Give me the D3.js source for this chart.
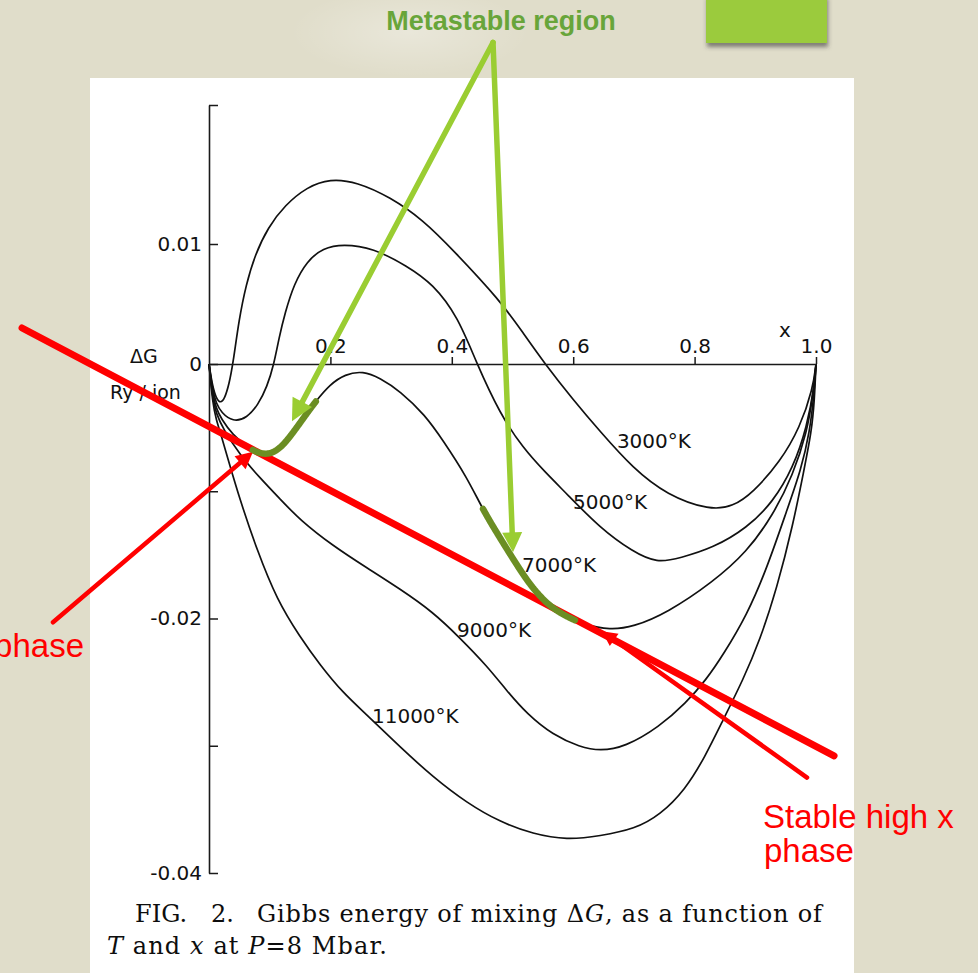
<!DOCTYPE html>
<html>
<head>
<meta charset="utf-8">
<script src="https://cdn.jsdelivr.net/npm/d3@7"></script>
<style>
  html, body { margin: 0; padding: 0; background: #e0ddca; }
  svg { display: block; }
</style>
</head>
<body>
<svg id="fig" width="978" height="973"></svg>
<script>
// Gibbs energy of mixing ΔG (Ry/ion) against x at P = 8 Mbar, one series per temperature.
const xTicks = [0.2, 0.4, 0.6, 0.8, 1.0];
const xTickLabels = ["0.2", "0.4", "0.6", "0.8", "1.0"];
const yTicks = [0.02, 0.01, 0, -0.01, -0.02, -0.03, -0.04];
const yTickLabels = ["", "0.01", "0", "", "-0.02", "", "-0.04"];
const temperatures = ["3000°K", "5000°K", "7000°K", "9000°K", "11000°K"];

// [x, ΔG] pairs
const g3000 = [[0,0],[0.006,-0.0018],[0.012,-0.0027],[0.019,-0.0031],[0.026,-0.0027],[0.033,-0.0016],[0.0395,0],
  [0.0494,0.0037],[0.061,0.0066],[0.0758,0.0091],[0.0972,0.0112],[0.1252,0.0128],[0.1614,0.0141],[0.1993,0.0147],
  [0.2438,0.01446],[0.2982,0.01338],[0.3526,0.01173],[0.402,0.0095],[0.4794,0.0053],[0.5173,0.0026],[0.5535,0],
  [0.5997,-0.0028],[0.6442,-0.0053],[0.6985,-0.0082],[0.7545,-0.0103],[0.8254,-0.0115],[0.8633,-0.0112],
  [0.8962,-0.0101],[0.9407,-0.0077],[0.9736,-0.0050],[0.995,-0.0019],[1,0]];
const g5000 = [[0,0],[0.006,-0.0021],[0.012,-0.0031],[0.02,-0.0038],[0.0395,-0.00456],[0.0626,-0.00424],
  [0.0807,-0.00322],[0.0956,-0.00181],[0.1071,0],[0.1153,0.00217],[0.1252,0.00425],[0.14,0.00667],[0.1614,0.00858],
  [0.1878,0.00967],[0.2208,0.0100],[0.2702,0.00967],[0.3262,0.00817],[0.369,0.00667],[0.4102,0.00392],
  [0.4399,0.00017],[0.4794,-0.00393],[0.5173,-0.0066],[0.5535,-0.00849],[0.5898,-0.01022],[0.6442,-0.01289],
  [0.6985,-0.01477],[0.7381,-0.01564],[0.7759,-0.01525],[0.8303,-0.01446],[0.8863,-0.01289],[0.9292,-0.01084],
  [0.9621,-0.00817],[0.985,-0.0050],[0.9984,-0.0014],[1,0]];
const g7000 = [[0,0],[0.006,-0.0024],[0.012,-0.0035],[0.02,-0.0043],[0.0395,-0.0056],[0.0626,-0.0065],[0.0807,-0.0070],
  [0.0972,-0.0071],[0.112,-0.0068],[0.1252,-0.0062],[0.1384,-0.0054],[0.1549,-0.0043],[0.1746,-0.0030],
  [0.1993,-0.0016],[0.224,-0.0008],[0.2537,-0.00055],[0.2817,-0.0011],[0.3147,-0.00212],[0.3558,-0.0040],
  [0.3855,-0.0060],[0.425,-0.0089],[0.4514,-0.01147],[0.4794,-0.01367],[0.5041,-0.01556],[0.5288,-0.01737],
  [0.5568,-0.01886],[0.5832,-0.01972],[0.6194,-0.02051],[0.6606,-0.0209],[0.6985,-0.02067],[0.7545,-0.01957],
  [0.8303,-0.01713],[0.8863,-0.01477],[0.9292,-0.01187],[0.9621,-0.00872],[0.9852,-0.00534],[0.9951,-0.00244],[1,0]];
const g9000 = [[0,0],[0.006,-0.0027],[0.012,-0.0039],[0.0231,-0.0051],[0.0511,-0.00715],[0.084,-0.00896],
  [0.117,-0.01061],[0.1499,-0.01226],[0.2043,-0.0143],[0.2603,-0.01603],[0.3147,-0.01768],[0.369,-0.01949],
  [0.4135,-0.02153],[0.458,-0.02373],[0.4909,-0.0257],[0.5239,-0.0275],[0.5667,-0.02916],[0.6112,-0.0301],
  [0.6442,-0.03041],[0.6853,-0.0301],[0.7414,-0.02853],[0.7858,-0.02664],[0.8188,-0.02483],[0.8468,-0.02287],
  [0.8863,-0.01972],[0.9193,-0.01603],[0.9522,-0.01147],[0.9753,-0.00833],[0.9896,-0.00534],[0.9967,-0.00244],[1,0]];
const g11000 = [[0,0],[0.006,-0.0031],[0.012,-0.0044],[0.02,-0.0056],[0.0297,-0.0072],[0.0511,-0.0107],
  [0.0791,-0.01462],[0.112,-0.01855],[0.1499,-0.02145],[0.1829,-0.02365],[0.2208,-0.02585],[0.2603,-0.02758],
  [0.3147,-0.0301],[0.369,-0.03246],[0.425,-0.0345],[0.4794,-0.03599],[0.5338,-0.03694],[0.5898,-0.03741],
  [0.6442,-0.03709],[0.7018,-0.03654],[0.743,-0.03544],[0.7842,-0.03348],[0.8171,-0.03088],[0.8468,-0.02798],
  [0.8797,-0.02483],[0.9077,-0.02169],[0.9357,-0.0176],[0.9621,-0.01265],[0.9802,-0.00833],[0.9926,-0.00534],
  [0.9975,-0.00283],[1,0]];
const seriesValues = [g3000, g5000, g7000, g9000, g11000];

// where each temperature name sits, [x, ΔG] of the text start / baseline
const labelAnchors = [[0.672,-0.0066],[0.5997,-0.0114],[0.5157,-0.01635],[0.4086,-0.02145],[0.2685,-0.02821]];

// overlay: common tangent, phase arrows and the metastable stretches of the 7000°K curve
const tangentLine = [[-0.308, 0.0030], [1.0297, -0.0308]];
const lowPhaseArrow = [[-0.257, -0.0203], [0.0725, -0.0069]];
const highPhaseArrow = [[0.9852, -0.0325], [0.6474, -0.0210]];
const metaArrowLeft = [[0.4679, 0.0245], [0.1367, -0.0045]];
const metaArrowRight = [[0.4679, 0.0245], [0.5008, -0.0148]];
const metastableRanges = [[0.072, 0.176], [0.451, 0.603]];

const svg = d3.select("#fig");
const W = 978, H = 973;

// ---- page background -------------------------------------------------------
const defs = svg.append("defs");
const glow = defs.append("radialGradient").attr("id", "glow");
glow.append("stop").attr("offset", "0%").attr("stop-color", "#ffffff").attr("stop-opacity", 0.3);
glow.append("stop").attr("offset", "100%").attr("stop-color", "#ffffff").attr("stop-opacity", 0);
const shadow = defs.append("filter").attr("id", "boxShadow")
  .attr("x", "-20%").attr("y", "-20%").attr("width", "140%").attr("height", "160%");
shadow.append("feDropShadow").attr("dx", 1).attr("dy", 4).attr("stdDeviation", 2)
  .attr("flood-color", "#3a3a3a").attr("flood-opacity", 0.6);

svg.append("rect").attr("width", W).attr("height", H).attr("fill", "#e0ddca");
svg.append("ellipse").attr("cx", 410).attr("cy", 32).attr("rx", 120).attr("ry", 45).attr("fill", "url(#glow)");
svg.append("rect").attr("x", 706).attr("y", -6).attr("width", 121).attr("height", 49)
  .attr("fill", "#9bcb3c").attr("filter", "url(#boxShadow)");
svg.append("rect").attr("x", 90).attr("y", 78).attr("width", 764).attr("height", H - 78).attr("fill", "#ffffff");

// ---- scales ----------------------------------------------------------------
const x = d3.scaleLinear().domain([0, 1]).range([209, 816]);
const y = d3.scaleLinear().domain([0.02, 0.01, 0, -0.04]).range([105, 244, 364, 873]);
const P = d => [x(d[0]), y(d[1])];

const axisFont = "'DejaVu Sans', sans-serif";

// ---- curves ----------------------------------------------------------------
const line = d3.line().x(d => x(d[0])).y(d => y(d[1])).curve(d3.curveBasis);
const curveG = svg.append("g");
const paths = seriesValues.map(vals =>
  curveG.append("path").attr("d", line(vals)).attr("fill", "none")
    .attr("stroke", "#111").attr("stroke-width", 1.7).attr("stroke-linejoin", "round"));

temperatures.forEach((t, i) => {
  svg.append("text").attr("x", x(labelAnchors[i][0])).attr("y", y(labelAnchors[i][1]))
    .attr("font-family", axisFont).attr("font-size", 20).attr("fill", "#111").text(t);
});

// ---- axes ------------------------------------------------------------------
const yAxis = d3.axisLeft(y).tickValues(yTicks).tickSize(-9).tickSizeOuter(0).tickPadding(7)
  .tickFormat((d, i) => yTickLabels[i]);
const gy = svg.append("g").attr("transform", `translate(${x(0)},0)`).call(yAxis);

const xAxis = d3.axisTop(x).tickValues(xTicks).tickSize(7).tickSizeOuter(0).tickPadding(4)
  .tickFormat((d, i) => xTickLabels[i]);
const gx = svg.append("g").attr("transform", `translate(0,${y(0)})`).call(xAxis);

[gx, gy].forEach(g => {
  g.select(".domain").attr("stroke", "#1a1a1a").attr("stroke-width", 1.6);
  g.selectAll(".tick line").attr("stroke", "#1a1a1a").attr("stroke-width", 1.5);
  g.selectAll(".tick text").attr("font-family", axisFont).attr("font-size", 20).attr("fill", "#111");
});

svg.append("text").attr("x", 785).attr("y", 337).attr("text-anchor", "middle")
  .attr("font-family", axisFont).attr("font-size", 20).attr("fill", "#111").text("x");
svg.append("text").attr("x", 130).attr("y", 363)
  .attr("font-family", axisFont).attr("font-size", 19).attr("fill", "#111").text("ΔG");
svg.append("text").attr("x", 110).attr("y", 399)
  .attr("font-family", axisFont).attr("font-size", 19).attr("fill", "#111").text("Ry / ion");

// ---- caption ---------------------------------------------------------------
const capFont = "'DejaVu Serif', 'Liberation Serif', serif";
const cap = (tx, ty) => svg.append("text").attr("x", tx).attr("y", ty)
  .attr("font-family", capFont).attr("font-size", 24).attr("fill", "#0d0d0d");
cap(135, 922).text("FIG.");
cap(211, 922).text("2.");
const c1 = cap(257, 922).attr("textLength", 565).attr("lengthAdjust", "spacing");
c1.append("tspan").text("Gibbs energy of mixing Δ");
c1.append("tspan").attr("font-style", "italic").text("G");
c1.append("tspan").text(", as a function of");
const c2 = cap(107, 954).attr("textLength", 280).attr("lengthAdjust", "spacing");
c2.append("tspan").attr("font-style", "italic").text("T");
c2.append("tspan").text(" and ");
c2.append("tspan").attr("font-style", "italic").text("x");
c2.append("tspan").text(" at ");
c2.append("tspan").attr("font-style", "italic").text("P");
c2.append("tspan").text("=8 Mbar.");

// ---- overlay ---------------------------------------------------------------
function arrow(seg, color, width, headLen, headHalf) {
  const [x0, y0] = P(seg[0]), [x1, y1] = P(seg[1]);
  const L = Math.hypot(x1 - x0, y1 - y0), ux = (x1 - x0) / L, uy = (y1 - y0) / L;
  const bx = x1 - ux * headLen, by = y1 - uy * headLen;
  svg.append("line").attr("x1", x0).attr("y1", y0).attr("x2", bx + ux * 2).attr("y2", by + uy * 2)
    .attr("stroke", color).attr("stroke-width", width).attr("stroke-linecap", "round");
  svg.append("polygon")
    .attr("points", [[x1, y1], [bx - uy * headHalf, by + ux * headHalf], [bx + uy * headHalf, by - ux * headHalf]]
      .map(p => p.join(",")).join(" "))
    .attr("fill", color);
}

const red = "#ff0000";
const [t0, t1] = [P(tangentLine[0]), P(tangentLine[1])];
svg.append("line").attr("x1", t0[0]).attr("y1", t0[1]).attr("x2", t1[0]).attr("y2", t1[1])
  .attr("stroke", red).attr("stroke-width", 7).attr("stroke-linecap", "round");
arrow(lowPhaseArrow, red, 4.5, 17, 8.5);
arrow(highPhaseArrow, red, 4.5, 15, 7.5);

// metastable stretches traced along the 7000°K curve
const node7000 = paths[2].node(), len7000 = node7000.getTotalLength();
metastableRanges.forEach(([a, b]) => {
  const pts = [];
  for (let s = 0; s <= len7000; s += 0.75) {
    const p = node7000.getPointAtLength(s);
    const xv = x.invert(p.x);
    if (xv >= a && xv <= b) pts.push([p.x, p.y]);
  }
  svg.append("path").attr("d", d3.line()(pts)).attr("fill", "none")
    .attr("stroke", "#6b8e23").attr("stroke-width", 6.5)
    .attr("stroke-linecap", "round").attr("stroke-linejoin", "round");
});

const lime = "#9acd32";
arrow(metaArrowLeft, lime, 5.5, 22, 11);
arrow(metaArrowRight, lime, 5.5, 20, 10);

// ---- annotation texts ------------------------------------------------------
svg.append("text").attr("x", 501).attr("y", 30).attr("text-anchor", "middle")
  .attr("font-family", "'Liberation Sans', Arial, sans-serif").attr("font-weight", "bold")
  .attr("font-size", 27).attr("fill", "#68a53a").text("Metastable region");

const redFont = "'Liberation Sans', Arial, sans-serif";
svg.append("text").attr("x", 763).attr("y", 828).attr("font-family", redFont)
  .attr("font-size", 33).attr("fill", red).text("Stable high x");
svg.append("text").attr("x", 764).attr("y", 862).attr("font-family", redFont)
  .attr("font-size", 33).attr("fill", red).text("phase");
svg.append("text").attr("x", 84).attr("y", 657).attr("text-anchor", "end").attr("font-family", redFont)
  .attr("font-size", 33).attr("fill", red).text("phase");
</script>
</body>
</html>
